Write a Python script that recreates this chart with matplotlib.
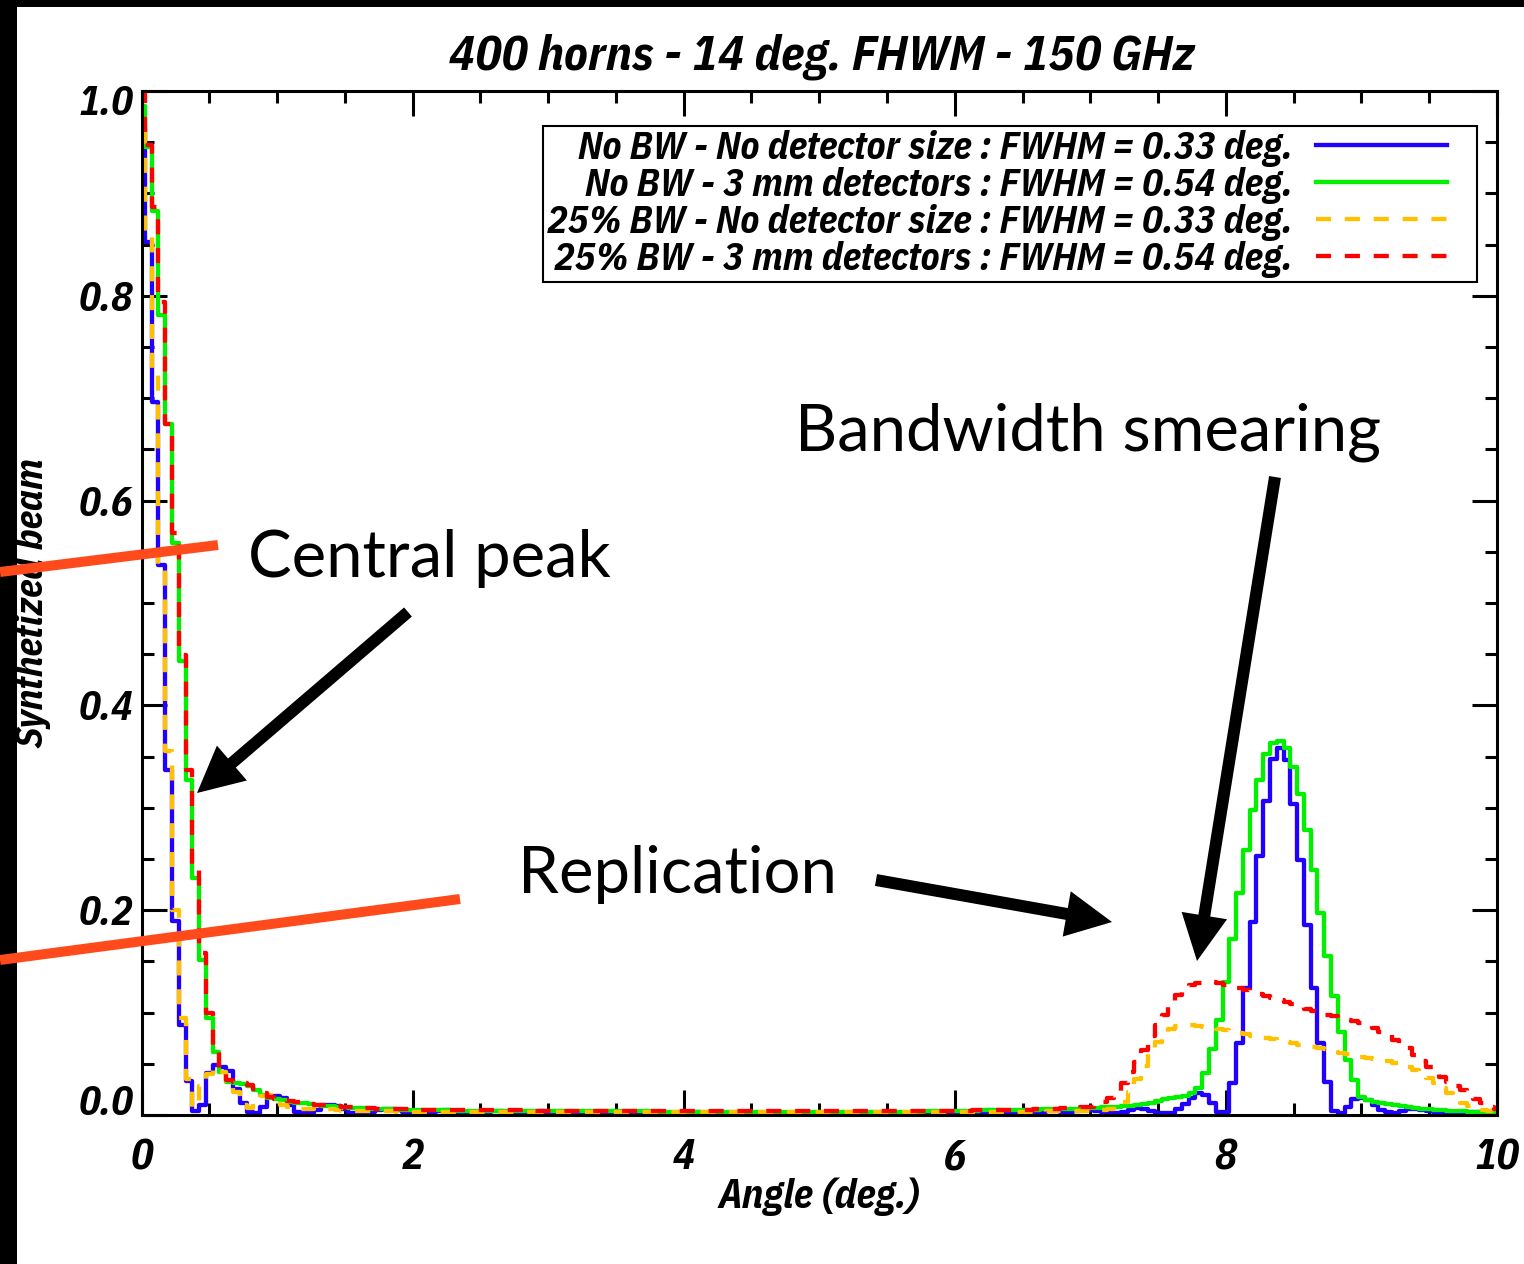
import matplotlib
matplotlib.use("Agg")
import matplotlib.pyplot as plt
import matplotlib.transforms as mtransforms
from matplotlib.patches import Rectangle, FancyArrow
from matplotlib.lines import Line2D
from matplotlib.legend_handler import HandlerLine2D
from matplotlib.ticker import MultipleLocator
import numpy as np

W, H, DPI = 1524, 1264, 100

# ---------------------------------------------------------------- data
# angular bins, 0.05 deg wide
angle = np.linspace(0.0, 10.0, 201)

beam_nobw_nodet = [
    0.964, 0.853, 0.696, 0.537, 0.337, 0.189, 0.088, 0.033, 0.004, 0.010,
    0.041, 0.049, 0.047, 0.043, 0.025, 0.012, 0.003, 0.002, 0.008, 0.018,
    0.019, 0.017, 0.010, 0.003, 0.002, 0.002, 0.005, 0.010, 0.010, 0.009,
    0.006, 0.002, 0.002, 0.002, 0.003, 0.005, 0.006, 0.006, 0.005, 0.003,
    0.002, 0.002, 0.002, 0.003, 0.004, 0.005, 0.004, 0.003, 0.002, 0.002,
    0.002, 0.003, 0.004, 0.004, 0.003, 0.002, 0.002, 0.002, 0.003, 0.004,
    0.003, 0.002, 0.002, 0.002, 0.003, 0.003, 0.003, 0.002, 0.002, 0.002,
    0.003, 0.003, 0.002, 0.002, 0.002, 0.002, 0.003, 0.003, 0.002, 0.002,
    0.002, 0.002, 0.003, 0.002, 0.002, 0.002, 0.002, 0.002, 0.002, 0.002,
    0.002, 0.002, 0.002, 0.002, 0.002, 0.002, 0.002, 0.002, 0.002, 0.002,
    0.002, 0.002, 0.002, 0.002, 0.002, 0.002, 0.002, 0.002, 0.002, 0.002,
    0.002, 0.002, 0.002, 0.002, 0.002, 0.002, 0.002, 0.002, 0.002, 0.002,
    0.002, 0.002, 0.002, 0.003, 0.003, 0.002, 0.002, 0.002, 0.003, 0.003,
    0.003, 0.002, 0.002, 0.003, 0.004, 0.004, 0.003, 0.003, 0.004, 0.005,
    0.005, 0.004, 0.003, 0.002, 0.002, 0.003, 0.005, 0.007, 0.006, 0.004,
    0.002, 0.002, 0.002, 0.006, 0.011, 0.017, 0.021, 0.020, 0.012, 0.003,
    0.003, 0.031, 0.070, 0.124, 0.188, 0.253, 0.307, 0.348, 0.358, 0.347,
    0.304, 0.249, 0.186, 0.124, 0.070, 0.032, 0.004, 0.002, 0.008, 0.016,
    0.017, 0.015, 0.010, 0.005, 0.003, 0.002, 0.004, 0.006, 0.006, 0.005,
    0.004, 0.003, 0.002, 0.002, 0.002, 0.003, 0.003, 0.003, 0.002, 0.002,
    0.002,
]

beam_nobw_3mm = [
    0.985, 0.945, 0.883, 0.781, 0.675, 0.559, 0.443, 0.327, 0.231, 0.151,
    0.095, 0.062, 0.042, 0.032, 0.031, 0.030, 0.028, 0.024, 0.020, 0.017,
    0.016, 0.015, 0.013, 0.012, 0.012, 0.011, 0.010, 0.009, 0.009, 0.008,
    0.008, 0.007, 0.007, 0.007, 0.006, 0.006, 0.006, 0.006, 0.005, 0.005,
    0.005, 0.005, 0.005, 0.005, 0.005, 0.005, 0.004, 0.004, 0.004, 0.004,
    0.004, 0.004, 0.004, 0.004, 0.004, 0.004, 0.004, 0.004, 0.004, 0.004,
    0.004, 0.004, 0.004, 0.004, 0.004, 0.004, 0.004, 0.004, 0.004, 0.004,
    0.004, 0.004, 0.004, 0.004, 0.004, 0.004, 0.003, 0.003, 0.003, 0.003,
    0.003, 0.003, 0.003, 0.003, 0.003, 0.003, 0.003, 0.003, 0.003, 0.003,
    0.003, 0.003, 0.003, 0.003, 0.003, 0.003, 0.003, 0.003, 0.003, 0.003,
    0.003, 0.003, 0.003, 0.003, 0.003, 0.003, 0.003, 0.003, 0.003, 0.003,
    0.003, 0.003, 0.003, 0.003, 0.003, 0.003, 0.004, 0.004, 0.004, 0.004,
    0.004, 0.004, 0.004, 0.004, 0.005, 0.005, 0.005, 0.005, 0.005, 0.005,
    0.005, 0.005, 0.005, 0.006, 0.006, 0.006, 0.006, 0.006, 0.006, 0.007,
    0.007, 0.007, 0.008, 0.008, 0.008, 0.009, 0.009, 0.010, 0.011, 0.012,
    0.014, 0.016, 0.017, 0.018, 0.019, 0.021, 0.026, 0.041, 0.064, 0.093,
    0.130, 0.172, 0.217, 0.259, 0.298, 0.327, 0.353, 0.363, 0.365, 0.358,
    0.340, 0.313, 0.278, 0.239, 0.197, 0.155, 0.116, 0.081, 0.054, 0.034,
    0.018, 0.015, 0.013, 0.012, 0.011, 0.010, 0.009, 0.008, 0.007, 0.006,
    0.006, 0.005, 0.005, 0.004, 0.004, 0.004, 0.003, 0.003, 0.003, 0.003,
    0.003,
]

beam_bw25_nodet = [
    0.960, 0.860, 0.725, 0.532, 0.355, 0.200, 0.095, 0.035, 0.008, 0.028,
    0.040, 0.046, 0.042, 0.033, 0.022, 0.010, 0.007, 0.012, 0.019, 0.020,
    0.016, 0.010, 0.008, 0.007, 0.006, 0.006, 0.007, 0.007, 0.006, 0.005,
    0.004, 0.004, 0.004, 0.004, 0.004, 0.004, 0.004, 0.004, 0.003, 0.003,
    0.003, 0.003, 0.003, 0.003, 0.003, 0.003, 0.003, 0.003, 0.003, 0.003,
    0.003, 0.003, 0.003, 0.003, 0.003, 0.003, 0.003, 0.003, 0.003, 0.003,
    0.003, 0.003, 0.003, 0.003, 0.003, 0.003, 0.003, 0.003, 0.003, 0.003,
    0.003, 0.003, 0.003, 0.003, 0.003, 0.003, 0.003, 0.003, 0.003, 0.003,
    0.003, 0.003, 0.003, 0.003, 0.003, 0.003, 0.003, 0.003, 0.003, 0.003,
    0.003, 0.003, 0.003, 0.003, 0.003, 0.003, 0.003, 0.003, 0.003, 0.003,
    0.003, 0.003, 0.003, 0.003, 0.003, 0.003, 0.003, 0.003, 0.003, 0.003,
    0.003, 0.003, 0.003, 0.003, 0.003, 0.003, 0.003, 0.003, 0.003, 0.003,
    0.003, 0.003, 0.003, 0.003, 0.003, 0.003, 0.003, 0.003, 0.003, 0.003,
    0.003, 0.003, 0.003, 0.003, 0.004, 0.004, 0.004, 0.004, 0.004, 0.004,
    0.004, 0.004, 0.005, 0.006, 0.009, 0.013, 0.022, 0.035, 0.048, 0.060,
    0.071, 0.078, 0.084, 0.087, 0.088, 0.088, 0.087, 0.086, 0.085, 0.084,
    0.083, 0.081, 0.080, 0.079, 0.077, 0.076, 0.075, 0.074, 0.072, 0.071,
    0.070, 0.068, 0.067, 0.066, 0.065, 0.064, 0.062, 0.061, 0.060, 0.058,
    0.057, 0.056, 0.055, 0.054, 0.053, 0.051, 0.049, 0.047, 0.044, 0.041,
    0.036, 0.031, 0.026, 0.021, 0.016, 0.012, 0.009, 0.007, 0.005, 0.004,
    0.003,
]

beam_bw25_3mm = [
    1.000, 0.947, 0.887, 0.794, 0.675, 0.568, 0.449, 0.337, 0.242, 0.158,
    0.100, 0.066, 0.044, 0.034, 0.032, 0.031, 0.029, 0.025, 0.021, 0.018,
    0.016, 0.015, 0.014, 0.013, 0.012, 0.011, 0.010, 0.010, 0.009, 0.009,
    0.008, 0.008, 0.007, 0.007, 0.007, 0.006, 0.006, 0.006, 0.006, 0.006,
    0.005, 0.005, 0.005, 0.005, 0.005, 0.005, 0.005, 0.005, 0.005, 0.005,
    0.005, 0.005, 0.005, 0.005, 0.005, 0.005, 0.005, 0.004, 0.004, 0.004,
    0.004, 0.004, 0.004, 0.004, 0.004, 0.004, 0.004, 0.004, 0.004, 0.004,
    0.004, 0.004, 0.004, 0.004, 0.004, 0.004, 0.004, 0.004, 0.004, 0.004,
    0.004, 0.004, 0.004, 0.004, 0.004, 0.004, 0.004, 0.004, 0.004, 0.004,
    0.004, 0.004, 0.004, 0.004, 0.004, 0.004, 0.004, 0.004, 0.004, 0.004,
    0.004, 0.004, 0.004, 0.004, 0.004, 0.004, 0.004, 0.004, 0.004, 0.004,
    0.004, 0.004, 0.004, 0.004, 0.004, 0.004, 0.004, 0.004, 0.004, 0.004,
    0.004, 0.004, 0.004, 0.005, 0.005, 0.005, 0.005, 0.005, 0.005, 0.005,
    0.005, 0.005, 0.006, 0.006, 0.006, 0.006, 0.007, 0.007, 0.007, 0.008,
    0.008, 0.010, 0.013, 0.017, 0.022, 0.031, 0.042, 0.052, 0.063, 0.077,
    0.088, 0.098, 0.108, 0.117, 0.123, 0.127, 0.129, 0.130, 0.130, 0.129,
    0.127, 0.125, 0.124, 0.122, 0.120, 0.118, 0.116, 0.114, 0.112, 0.110,
    0.108, 0.106, 0.104, 0.102, 0.100, 0.098, 0.097, 0.095, 0.093, 0.092,
    0.090, 0.088, 0.085, 0.081, 0.078, 0.073, 0.069, 0.065, 0.059, 0.053,
    0.047, 0.042, 0.037, 0.032, 0.028, 0.024, 0.020, 0.016, 0.012, 0.008,
    0.006,
]

series_labels = [
    "No BW - No detector size : FWHM = 0.33 deg.",
    "No BW - 3 mm detectors : FWHM = 0.54 deg.",
    "25% BW - No detector size : FWHM = 0.33 deg.",
    "25% BW - 3 mm detectors : FWHM = 0.54 deg.",
]
series_colors = ["#2200FF", "#00F000", "#FFC000", "#FF0000"]
dash = (0, (3.5, 3.2))
series_styles = ["-", "-", dash, dash]

title_text = "400 horns - 14 deg. FHWM - 150 GHz"
xlabel_text = "Angle (deg.)"
ylabel_text = "Synthetized beam"
xtick_values = [0, 2, 4, 6, 8, 10]
ytick_values = [0.0, 0.2, 0.4, 0.6, 0.8, 1.0]

# ---------------------------------------------------------------- style
IDL_FONT = ["IBM Plex Sans Condensed", "DejaVu Sans"]
CALLOUT_FONT = ["Lato", "DejaVu Sans"]
plt.rcParams["font.family"] = IDL_FONT
plt.rcParams["font.weight"] = "bold"
plt.rcParams["font.style"] = "italic"
plt.rcParams["axes.labelweight"] = "bold"

fig = plt.figure(figsize=(W / DPI, H / DPI), dpi=DPI, facecolor="white")


def px_rect(x0, y0, x1, y1):
    return [x0 / W, 1 - y1 / H, (x1 - x0) / W, (y1 - y0) / H]


ax = fig.add_axes(px_rect(141.5, 91, 1497, 1115))

for vals, col, ls, lab in zip(
    [beam_nobw_nodet, beam_nobw_3mm, beam_bw25_nodet, beam_bw25_3mm],
    series_colors, series_styles, series_labels,
):
    ax.step(angle, vals, where="mid", color=col, lw=3.1, ls=ls, label=lab)

ax.set_xlim(0, 10)
ax.set_ylim(0, 1)
ax.set_xticks(xtick_values)
ax.set_xticklabels([f"{v:d}" for v in xtick_values])
ax.set_yticks(ytick_values)
ax.set_yticklabels([f"{v:.1f}" for v in ytick_values])
ax.xaxis.set_minor_locator(MultipleLocator(0.5))
ax.yaxis.set_minor_locator(MultipleLocator(0.05))
ax.tick_params(which="both", direction="in", top=True, right=True, width=2.2)
ax.tick_params(which="major", length=18)
ax.tick_params(which="minor", length=8.6)
ax.tick_params(axis="x", pad=16, labelsize=30)
ax.tick_params(axis="y", pad=6, labelsize=29)
for sp in ax.spines.values():
    sp.set_linewidth(2.2)

# end labels of the y axis sit inside the axis range
yt = ax.yaxis.get_major_ticks()
yt[0].label1.set_transform(yt[0].label1.get_transform()
                           + mtransforms.ScaledTranslation(0, 15 / DPI, fig.dpi_scale_trans))
yt[-1].label1.set_transform(yt[-1].label1.get_transform()
                            + mtransforms.ScaledTranslation(0, -9 / DPI, fig.dpi_scale_trans))

ax.set_xlabel(xlabel_text, fontsize=29)
ax.xaxis.set_label_coords(0.5, -0.061)
ax.set_ylabel(ylabel_text, fontsize=28)
ax.yaxis.set_label_coords(-0.066, 0.5)

fig.text(822 / W, 1 - 69 / H, title_text, ha="center", va="baseline", fontsize=35)


class ShortLineHandler(HandlerLine2D):
    """Legend sample line that leaves a gap before the frame."""

    def get_xdata(self, legend, xdescent, ydescent, width, height, fontsize):
        xd, xm = super().get_xdata(legend, xdescent, ydescent, width, height, fontsize)
        x0, x1 = xd[0], xd[-1]
        return np.array([x0, x0 + 0.834 * (x1 - x0)]), xm


leg = ax.legend(
    loc="upper right", bbox_to_anchor=(1477 / W, 1 - 126 / H),
    bbox_transform=fig.transFigure, markerfirst=False, fontsize=27.8,
    handlelength=4.07, handletextpad=0.6, labelspacing=0.0, borderpad=0.1,
    borderaxespad=0, frameon=True, fancybox=False, edgecolor="black",
    framealpha=1, handler_map={Line2D: ShortLineHandler()},
)
leg.get_frame().set_linewidth(1.5)

# ---------------------------------------------------------------- overlay (pixel coords)
ov = fig.add_axes([0, 0, 1, 1], zorder=5)
ov.set_xlim(0, W)
ov.set_ylim(H, 0)
ov.axis("off")
ov.patch.set_alpha(0)

ov.add_patch(Rectangle((0, 0), 17, H, color="black", lw=0))
ov.add_patch(Rectangle((0, 0), W, 7, color="black", lw=0))

marker_red = "#FF4A1C"
ov.plot([0, 218], [572, 545], color=marker_red, lw=7.2, solid_capstyle="butt")
ov.plot([0, 460], [960, 899], color=marker_red, lw=7.2, solid_capstyle="butt")

for (x0, y0, x1, y1) in [(408, 612, 197, 793), (876, 880, 1112, 922), (1275, 477, 1197, 961)]:
    ov.add_patch(FancyArrow(x0, y0, x1 - x0, y1 - y0, width=12, head_width=46,
                            head_length=46, length_includes_head=True,
                            color="black", lw=0))

callout_kw = dict(family=CALLOUT_FONT, fontsize=47, fontstyle="normal",
                  fontweight="normal", va="baseline", ha="left")
ov.text(248, 577, "Central peak", **callout_kw)
ov.text(795, 450, "Bandwidth smearing", **callout_kw)
ov.text(518, 893, "Replication", **callout_kw)

fig.savefig("out.png", dpi=DPI, facecolor="white")
